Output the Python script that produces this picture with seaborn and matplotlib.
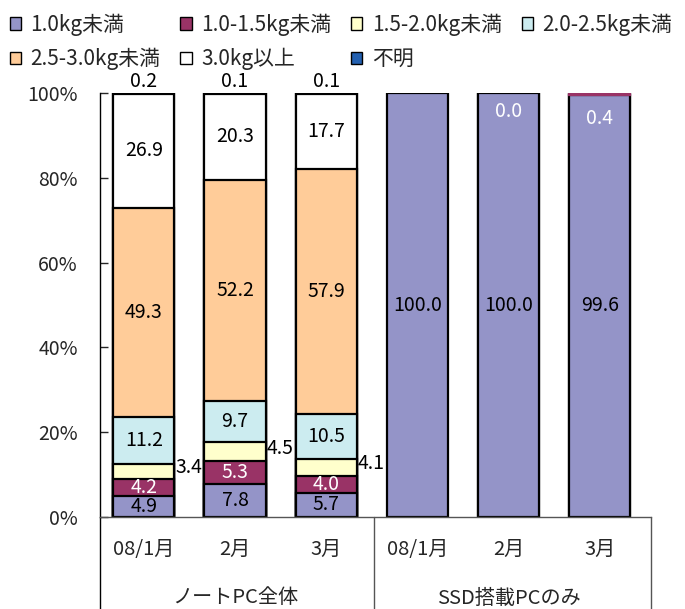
import numpy as np
import pandas as pd
import matplotlib
matplotlib.use("Agg")
import matplotlib.pyplot as plt
import seaborn as sns
from matplotlib.patches import Patch

# データ (読み取り値)
months = ["08/1月", "2月", "3月", "08/1月", "2月", "3月"]
groups = ["ノートPC全体", "SSD搭載PCのみ"]
series = ["1.0kg未満", "1.0-1.5kg未満", "1.5-2.0kg未満", "2.0-2.5kg未満",
          "2.5-3.0kg未満", "3.0kg以上", "不明"]

w_lt10 = [4.9, 7.8, 5.7, 100.0, 100.0, 99.6]
w_10_15 = [4.2, 5.3, 4.0, np.nan, 0.0, 0.4]
w_15_20 = [3.4, 4.5, 4.1, np.nan, np.nan, np.nan]
w_20_25 = [11.2, 9.7, 10.5, np.nan, np.nan, np.nan]
w_25_30 = [49.3, 52.2, 57.9, np.nan, np.nan, np.nan]
w_ge30 = [26.9, 20.3, 17.7, np.nan, np.nan, np.nan]
w_unknown = [0.2, 0.1, 0.1, np.nan, np.nan, np.nan]

colors = ["#9494C8", "#993366", "#FFFFCC", "#CCECF0", "#FFCC99", "#FFFFFF", "#2360B0"]
text_colors = ["black", "white", "black", "black", "black", "black", "black"]

values = [w_lt10, w_10_15, w_15_20, w_20_25, w_25_30, w_ge30, w_unknown]
keys = [f"c{i}" for i in range(len(months))]

df = pd.DataFrame(np.array(values).T, columns=series)
df["key"] = keys
vals = df[series].fillna(0)
# 100%積み上げ
norm = vals.div(vals.sum(axis=1), axis=0) * 100
cum = norm.cumsum(axis=1)

sns.set_style("white")
plt.rcParams["font.family"] = ["Noto Sans CJK JP", "DejaVu Sans"]

fig = plt.figure(figsize=(6.85, 6.09), dpi=100)
ax = fig.add_axes([0.146, 0.151, 0.804, 0.696])

bar_w = 0.67
lw = 1.6
# 上の系列から順に累積値の棒を描く
for i in reversed(range(len(series))):
    s = series[i]
    mask = df[s].notna()
    d = pd.DataFrame({"key": df.loc[mask, "key"], "top": cum.loc[mask, s]})
    sns.barplot(data=d, x="key", y="top", order=keys, color=colors[i],
                edgecolor="black", linewidth=lw, width=bar_w, saturation=1,
                ax=ax)

# ごく薄い区間は枠線なしで上に重ねる
for i, s in enumerate(series[:-1]):
    thin = (norm[s] > 0) & (norm[s] < 1)
    if thin.any():
        d = pd.DataFrame({"key": df.loc[thin, "key"], "h": norm.loc[thin, s]})
        sns.barplot(data=d, x="key", y="h", order=keys, color=colors[i],
                    bottom=(cum.loc[thin, s] - norm.loc[thin, s]).values,
                    edgecolor=colors[i], linewidth=lw, width=bar_w,
                    saturation=1, ax=ax)

# データラベル
fs = 14
for j in range(len(keys)):
    for i, s in enumerate(series):
        v = df.loc[j, s]
        if pd.isna(v):
            continue
        top = cum.loc[j, s]
        bottom = top - norm.loc[j, s]
        if s == "不明":
            ax.text(j, 102.7, f"{v:.1f}", ha="center", va="center",
                    fontsize=fs, color="black", clip_on=False)
        elif s == "1.5-2.0kg未満":
            ax.text(j + bar_w / 2 + 0.01, (top + bottom) / 2 + 0.8, f"{v:.1f}",
                    ha="left", va="center", fontsize=fs, color="black")
        elif norm.loc[j, s] < 2:
            ax.text(j, 95.6 - v * 4, f"{v:.1f}", ha="center", va="center",
                    fontsize=fs, color=text_colors[i])
        else:
            ax.text(j, (top + bottom) / 2, f"{v:.1f}", ha="center",
                    va="center", fontsize=fs, color=text_colors[i])

xl = (-0.48, 5.56)
ax.set_xlim(*xl)
ax.set_ylim(0, 100)
ax.set_yticks(range(0, 101, 20))
ax.set_yticklabels([f"{t}%" for t in range(0, 101, 20)])
ax.tick_params(axis="y", direction="in", length=6, width=1, pad=16,
               labelsize=14, left=True)
ax.set_xticks(range(len(keys)))
ax.set_xticklabels(months)
ax.tick_params(axis="x", length=0, pad=16, labelsize=14.5)
ax.set_xlabel("")
ax.set_ylabel("")

sns.despine(ax=ax, top=True, right=True)
ax.spines["left"].set_color("black")
ax.spines["left"].set_linewidth(1)
ax.spines["bottom"].set_color("#555555")
ax.spines["bottom"].set_linewidth(1)

# 下部の区切り線
trans = ax.get_xaxis_transform()
ax.plot([xl[0], xl[0]], [0, -0.23], transform=trans, color="black",
        lw=1, clip_on=False)
for xs in [2.52, xl[1]]:
    ax.plot([xs, xs], [0, -0.23], transform=trans, color="#555555",
            lw=1, clip_on=False)
for g, xc in zip(groups, [1, 4]):
    ax.text(xc, -0.191, g, transform=trans, ha="center", va="center",
            fontsize=14.5)

# 凡例 (行方向に並べる)
handles = [Patch(facecolor=c, edgecolor="black", linewidth=1) for c in colors]
order = [0, 4, 1, 5, 2, 6, 3]
fig.legend([handles[k] for k in order], [series[k] for k in order],
           loc="upper left", bbox_to_anchor=(0.014, 0.978), ncol=4,
           frameon=False, fontsize=15, handlelength=0.55, handleheight=0.55,
           handletextpad=0.45, columnspacing=0.95, labelspacing=0.6,
           borderpad=0, borderaxespad=0)

fig.savefig("out.png", dpi=100)
